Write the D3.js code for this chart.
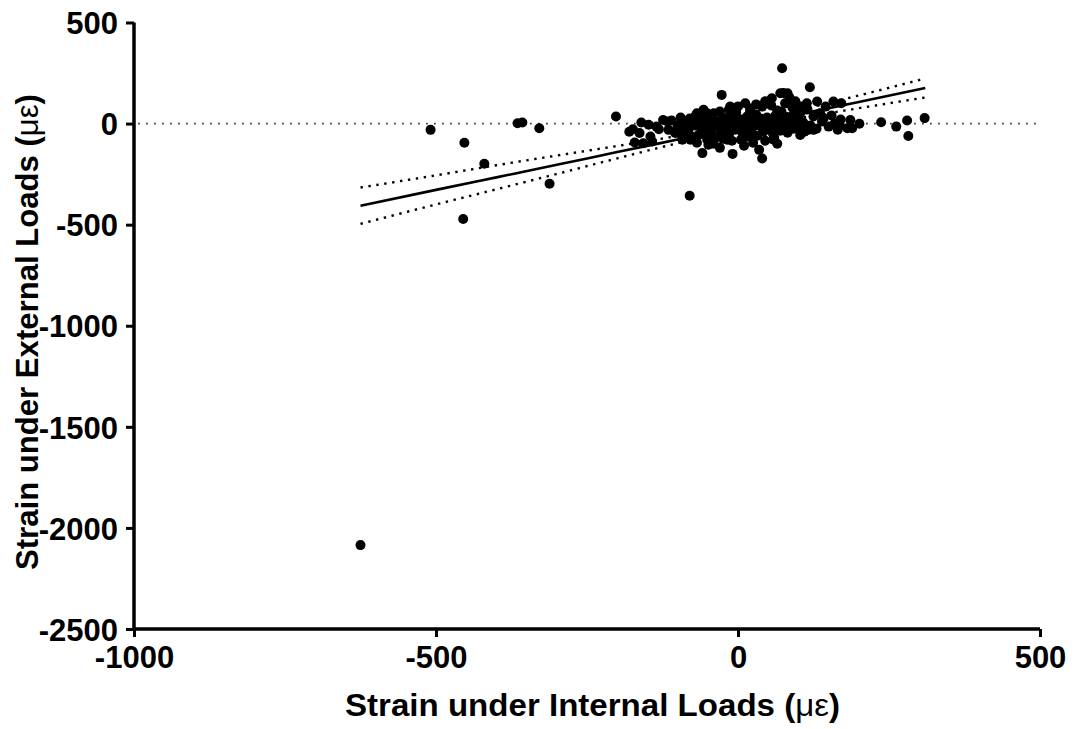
<!DOCTYPE html>
<html>
<head>
<meta charset="utf-8">
<script src="https://cdn.jsdelivr.net/npm/d3@7"></script>
<style>
  body { margin: 0; background: #fff; }
  svg text { font-family: Arial, "Liberation Sans", sans-serif; font-weight: bold; fill: #000; }
</style>
</head>
<body>
<div id="chart"></div>
<script>
// tick labels
const xTicks = [-1000, -500, 0, 500];
const yTicks = [500, 0, -500, -1000, -1500, -2000, -2500];

// strain pairs [internal, external] in microstrain
const outlierPoints = [
  [-625, -2085], [-509, -31], [-453, -95], [-420, -199], [-365, 2], [-357, 5],
  [-329, -23], [-312, -298], [-455, -472], [-202, 35], [-80, -357]
];
const clusterPoints = [
  [-59, -146], [-9, -150], [40, -173], [-49, -105], [-18, -80], [59, -80],
  [-174, -28], [-171, -94], [-157, -97], [-163, -47], [-148, -6], [-145, -64],
  [-142, -89], [-124, 18], [-131, -28], [-115, -31], [-117, 10], [-104, -47],
  [-95, 2], [-92, -80], [-82, -31], [-79, -80], [-68, 51], [-62, 10], [-65, -56],
  [-57, -31], [-51, 51], [-51, -80], [73, 274], [-27, 142], [56, 125], [70, 150],
  [82, 150], [78, 101], [12, 101], [40, 84], [-13, 84], [-57, 68], [-40, 51],
  [119, 180], [100, 59], [-46, -80], [114, 101], [131, 109], [158, 109], [171, 101],
  [145, 84], [136, 51], [103, 51], [103, 2], [116, -31], [125, -31], [139, 10],
  [142, 27], [169, -11], [181, -23], [186, 18], [189, -23], [201, -1], [237, 7],
  [262, -15], [280, 15], [282, -61], [309, 27], [103, -56], [75, 151], [81, 101]
];
const densePoints = [
  [-40, 20], [-35, -10], [-30, 5], [-28, -40], [-25, 30], [-20, -20], [-18, 10],
  [-15, -55], [-12, 40], [-10, -5], [-8, 25], [-5, -30], [-3, 55], [0, 0], [2, -15],
  [5, 20], [7, -45], [10, 10], [12, -25], [15, 35], [18, -5], [20, 60], [22, -35],
  [25, 15], [28, -10], [30, 45], [32, -60], [35, 5], [38, 25], [40, -20], [42, -40],
  [45, 10], [48, 30], [50, -5], [52, -30], [55, 20], [58, -50], [60, 0], [62, 40],
  [65, -15], [68, 15], [70, -35], [72, 60], [75, 5], [78, -20], [80, 30], [82, -45],
  [85, 10], [88, -5], [90, 40], [92, -25], [95, 20], [98, -10], [100, 30], [105, -20],
  [108, 5], [110, -40], [-50, 0], [-45, -25], [-55, 30], [-60, -40], [-48, -60],
  [-38, -70], [-25, -75], [-10, -85], [5, -80], [15, -65], [25, -70], [-65, 20],
  [-70, -10], [-75, 5], [-85, -20], [-90, 10], [-100, -15], [-110, 15],
  [-135, -15], [-160, 5], [-180, -40],
  [-95, -50], [-88, -65], [-75, -70],
  [-68, -95], [-40, -100], [-30, -120], [10, -110], [25, -95], [45, -85], [60, -70],
  [65, -100], [35, -130], [120, -10], [130, -25], [150, -15], [160, 0], [165, -30],
  [170, 20], [155, 40], [125, 35], [115, 70], [105, 85], [95, 110], [90, 80],
  [85, 130], [65, 65], [55, 90], [45, 110], [30, 95], [20, 75], [0, 85], [-15, 70],
  [-30, 60], [-70, 40], [-80, 25], [-95, 30]
];

// linear fit and 95% confidence band
const fitX = [-625, -500, -400, -300, -200, -100, 0, 100, 200, 310];
const fitY = [-406, -328, -266, -204, -141, -79, -17, 45, 107, 176];
const bandUpper = [-316, -256, -206, -158, -111, -61, -5, 65, 139, 223];
const bandLower = [-496, -400, -325, -249, -172, -97, -29, 26, 76, 129];

const width = 1074, height = 729;

const svg = d3.select('#chart')
  .append('svg')
  .attr('width', width)
  .attr('height', height);

const x = d3.scaleLinear().domain([-1000, 500]).range([134, 1040]);
const y = d3.scaleLinear().domain([-2500, 500]).range([629, 22.5]);

// zero reference line
svg.append('line')
  .attr('x1', x(-1000) + 4).attr('x2', x(500) - 4)
  .attr('y1', y(0)).attr('y2', y(0))
  .attr('stroke', '#444')
  .attr('stroke-width', 1.8)
  .attr('stroke-dasharray', '1.8,6.2');

const line = d3.line()
  .x(d => x(d[0]))
  .y(d => y(d[1]))
  .curve(d3.curveMonotoneX);

[bandUpper, bandLower].forEach(band => {
  svg.append('path')
    .datum(fitX.map((v, i) => [v, band[i]]))
    .attr('d', line)
    .attr('fill', 'none')
    .attr('stroke', '#000')
    .attr('stroke-width', 2.4)
    .attr('stroke-dasharray', '2.4,5.6');
});

svg.append('path')
  .datum(fitX.map((v, i) => [v, fitY[i]]))
  .attr('d', line)
  .attr('fill', 'none')
  .attr('stroke', '#000')
  .attr('stroke-width', 2.6);

const allPoints = outlierPoints.concat(clusterPoints, densePoints);

svg.append('g')
  .selectAll('circle')
  .data(allPoints)
  .enter()
  .append('circle')
  .attr('cx', d => x(d[0]))
  .attr('cy', d => y(d[1]))
  .attr('r', 5)
  .attr('fill', '#000');

// axes, hyphen minus like the original
const fmt = d => String(d);

const xAxis = svg.append('g')
  .attr('transform', `translate(0, ${y(-2500)})`)
  .call(d3.axisBottom(x).tickValues(xTicks).tickSize(8).tickPadding(9).tickFormat(fmt));

const yAxis = svg.append('g')
  .attr('transform', `translate(${x(-1000)}, 0)`)
  .call(d3.axisLeft(y).tickValues(yTicks).tickSize(8).tickPadding(8).tickFormat(fmt));

[xAxis, yAxis].forEach(ax => {
  ax.select('.domain').attr('stroke', '#000').attr('stroke-width', 3.5);
  ax.selectAll('.tick line').attr('stroke', '#000').attr('stroke-width', 3);
  ax.selectAll('.tick text')
    .style('font-size', '31px')
    .style('font-weight', 'bold')
    .attr('fill', '#000');
});
// plain axis lines without the outer ticks
xAxis.select('.domain').attr('d', `M${x(-1000)},0H${x(500)}`);
yAxis.select('.domain').attr('d', `M0,${y(500)}V${y(-2500)}`);
yAxis.selectAll('.tick text').attr('dy', '0.36em');
xAxis.selectAll('.tick text').attr('dy', '0.72em');

// axis titles
const xTitle = svg.append('text')
  .attr('x', 345).attr('y', 716)
  .attr('textLength', 495)
  .attr('lengthAdjust', 'spacingAndGlyphs')
  .style('font-size', '31px');
xTitle.append('tspan').text('Strain under Internal Loads (');
xTitle.append('tspan').style('font-weight', 'normal').text('με');
xTitle.append('tspan').text(')');

const yTitle = svg.append('text')
  .attr('transform', 'translate(38, 570) rotate(-90)')
  .attr('textLength', 476)
  .attr('lengthAdjust', 'spacingAndGlyphs')
  .style('font-size', '31px');
yTitle.append('tspan').text('Strain under External Loads (');
yTitle.append('tspan').style('font-weight', 'normal').text('με');
yTitle.append('tspan').text(')');
</script>
</body>
</html>
